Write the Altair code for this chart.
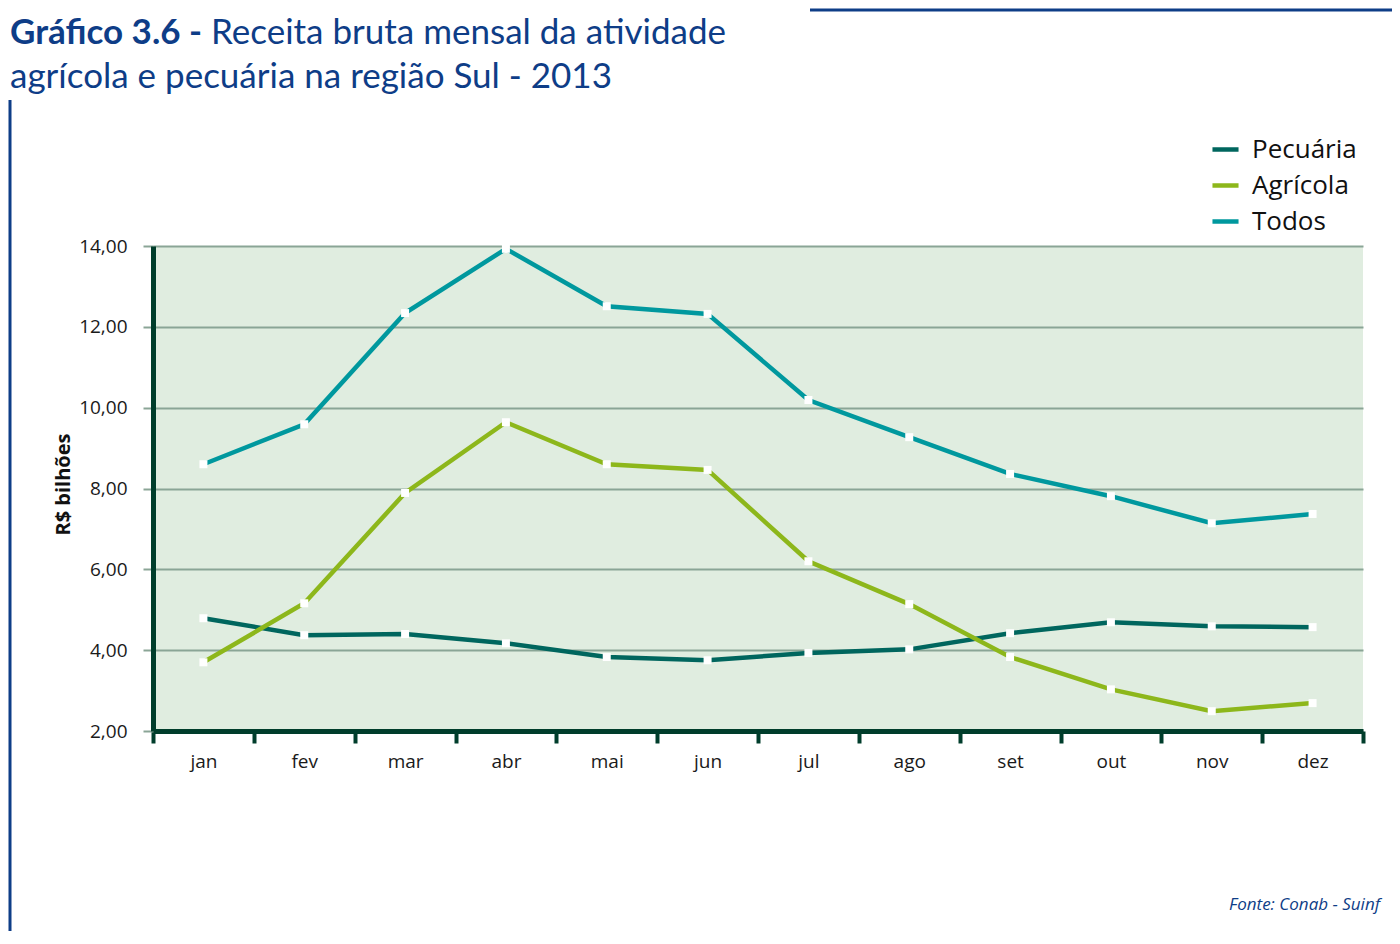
import altair as alt
import pandas as pd

meses = ["jan", "fev", "mar", "abr", "mai", "jun", "jul", "ago", "set", "out", "nov", "dez"]
series = ["Pecuária", "Agrícola", "Todos"]
pecuaria = [4.79, 4.37, 4.40, 4.17, 3.83, 3.75, 3.93, 4.02, 4.42, 4.69, 4.59, 4.57]
agricola = [3.70, 5.16, 7.89, 9.64, 8.60, 8.46, 6.20, 5.14, 3.83, 3.03, 2.49, 2.69]
todos = [8.60, 9.59, 12.34, 13.93, 12.51, 12.32, 10.19, 9.27, 8.36, 7.81, 7.14, 7.37]
cores = ["#00665E", "#8DB71B", "#00989E"]
y_ticks = [2, 4, 6, 8, 10, 12, 14]

rows = []
for nome, vals in zip(series, [pecuaria, agricola, todos]):
    for m, v in zip(meses, vals):
        rows.append({"mes": m, "serie": nome, "valor": v})
df = pd.DataFrame(rows)

BLUE = "#0E3D87"
W, H = 1210, 485

x_enc = alt.X("mes:N", sort=meses, scale=alt.Scale(paddingInner=0, paddingOuter=0),
              axis=alt.Axis(title=None, tickBand="extent", labelAngle=0, domainColor="#003D2B",
                            domainWidth=5, tickColor="#003D2B", tickWidth=4, tickSize=12,
                            labelFontSize=19, labelFont="Open Sans", labelColor="#1a1a1a",
                            labelPadding=9, grid=False))
y_enc = alt.Y("valor:Q", scale=alt.Scale(domain=[2, 14], nice=False, zero=False),
              axis=alt.Axis(title="R$ bilhões", values=y_ticks, format=".2f",
                            labelExpr="replace(datum.label, '.', ',')",
                            labelFont="Open Sans", labelFontSize=19, labelColor="#1a1a1a",
                            labelPadding=16, tickColor="#8AA596", tickWidth=2, tickSize=10,
                            gridColor="#8AA596", gridWidth=2, grid=True,
                            domainColor="#003D2B", domainWidth=5,
                            titleFont="Open Sans", titleFontSize=20, titleFontWeight="bold",
                            titleColor="#111111", titleX=-90, titleY=238,
                            titleAngle=270, titleAlign="center", titleBaseline="middle"))

lines = alt.Chart(df).mark_line(strokeWidth=4.5).encode(
    x=x_enc, y=y_enc,
    color=alt.Color("serie:N", scale=alt.Scale(domain=series, range=cores),
                    legend=alt.Legend(title=None, orient="none", legendX=1057, legendY=-112,
                                      symbolType="stroke", symbolStrokeWidth=4.5, symbolSize=680,
                                      labelFont="Open Sans", labelFontSize=26, labelColor="#111111",
                                      labelOffset=11, rowPadding=7)),
    order=alt.Order("serie_ord:Q"),
    detail="serie:N",
).transform_calculate(serie_ord="indexof(['Pecuária','Agrícola','Todos'], datum.serie)")

points = alt.Chart(df).mark_square(size=64, color="white", opacity=1, filled=True).encode(
    x=alt.X("mes:N", sort=meses), y="valor:Q")

one = pd.DataFrame({"k": [0]})

def txt(text, x, y, size, weight="normal", style="normal", align="left", font="Lato", color=BLUE):
    return alt.Chart(one).mark_text(text=text, fontSize=size, fontWeight=weight, fontStyle=style,
                                    align=align, baseline="alphabetic", font=font, color=color).encode(
        x=alt.value(x), y=alt.value(y))

t1a = txt("Gráfico 3.6 -", -143, -202, 35, weight="bold")
t1b = txt("Receita bruta mensal da atividade", 58, -202, 35)
t2 = txt("agrícola e pecuária na região Sul - 2013", -143, -158, 35)
fonte = txt("Fonte: Conab - Suinf", 1227, 664, 17, style="italic", align="right", font="Open Sans")

rule_top = alt.Chart(one).mark_rule(color=BLUE, strokeWidth=3).encode(
    x=alt.value(657), x2=alt.value(1260), y=alt.value(-236))
rule_left = alt.Chart(one).mark_rule(color=BLUE, strokeWidth=3).encode(
    x=alt.value(-143), y=alt.value(-146), y2=alt.value(720))

chart = alt.layer(rule_top, rule_left, lines, points, t1a, t1b, t2, fonte).properties(
    width=W, height=H,
    autosize=alt.AutoSizeParams(type="none"),
    padding={"left": 145, "top": 238, "right": 29, "bottom": 200},
).configure_view(fill="#E0EDE0", stroke=None).configure_axis(labelOverlap=False)

chart.save("out.html", embed_options={"renderer": "svg", "actions": False})
